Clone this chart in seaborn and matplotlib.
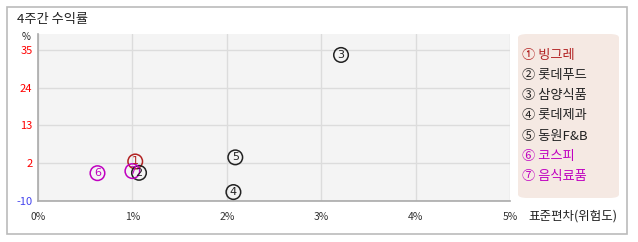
import matplotlib
matplotlib.use("Agg")
import matplotlib.pyplot as plt
import seaborn as sns
import pandas as pd
from matplotlib.patches import FancyBboxPatch, Rectangle

sns.set_theme(style="white")
plt.rcParams['font.family'] = ['Noto Sans CJK KR', 'DejaVu Sans']

names = ['빙그레', '롯데푸드', '삼양식품', '롯데제과', '동원F&B', '코스피', '음식료품']
marks = ['①', '②', '③', '④', '⑤', '⑥', '⑦']
digits = ['1', '2', '3', '4', '5', '6', '7']
risk = [1.03, 1.07, 3.21, 2.07, 2.09, 0.63, 1.00]
ret = [2.5, -0.8, 33.5, -6.4, 3.7, -0.9, -0.3]
colors = ['#B22222', '#222222', '#222222', '#222222', '#222222', '#C000C0', '#C000C0']
xticks = [0, 1, 2, 3, 4, 5]
xticklabels = ['0%', '1%', '2%', '3%', '4%', '5%']
yticks = [-9, 2, 13, 24, 35]
yticklabels = ['-10', '2', '13', '24', '35']
ytick_colors = ['#4444EE', 'red', 'red', 'red', 'red']

df = pd.DataFrame({'name': names, 'risk': risk, 'ret': ret})

W, H = 638, 242
fig = plt.figure(figsize=(W / 100, H / 100), dpi=100)
fig.patch.set_facecolor('white')

# outer frame
fig.add_artist(Rectangle((6.5 / W, 1 - 234 / H), (627 - 6.5) / W, (234 - 7) / H,
                         transform=fig.transFigure, fill=False, edgecolor='#BBBBBB', lw=1.2))

ax = fig.add_axes([38 / W, 1 - 201 / H, (510 - 38) / W, (201 - 34) / H])
ax.set_facecolor('#F4F4F4')

sns.scatterplot(data=df, x='risk', y='ret', hue='name', palette=dict(zip(names, colors)),
                s=110, linewidth=1.1, legend=False, ax=ax, zorder=3)
coll = ax.collections[0]
coll.set_edgecolors(colors)
coll.set_facecolors('none')

for x, y, d, c in zip(risk, ret, digits, colors):
    ax.text(x, y, d, color=c, fontsize=8, ha='center', va='center', zorder=4,
            family=['DejaVu Sans'])

ax.set_xlim(0, 5)
ax.set_ylim(-9, 39.6)
ax.set_xticks(xticks)
ax.set_xticklabels(xticklabels, fontsize=7.5, color='#333333')
ax.set_yticks(yticks)
ax.set_yticklabels(yticklabels, fontsize=8)
for lab, c in zip(ax.get_yticklabels(), ytick_colors):
    lab.set_color(c)
ax.tick_params(axis='both', length=0, pad=8)
ax.tick_params(axis='y', pad=4)
ax.grid(True, color='#DCDCDC', lw=1)
ax.set_axisbelow(True)
for s in ['top', 'right']:
    ax.spines[s].set_visible(False)
for s in ['left', 'bottom']:
    ax.spines[s].set_color('#AAAAAA')
    ax.spines[s].set_linewidth(1.2)
ax.set_xlabel('')
ax.set_ylabel('')

fig.text(17 / W, 1 - 19 / H, '4주간 수익률', fontsize=9.5, color='#222222', va='center', ha='left')
fig.text(26 / W, 1 - 37 / H, '%', fontsize=7, color='#222222', va='center', ha='center')
fig.text(528 / W, 1 - 216 / H, '표준편차(위험도)', fontsize=9, color='#222222', va='center', ha='left')

# legend box
fig.add_artist(FancyBboxPatch((518 / W, 1 - 198 / H), (619 - 518) / W, (198 - 34) / H,
                              boxstyle='round,pad=0,rounding_size=0.015',
                              transform=fig.transFigure, facecolor='#F5E9E3', edgecolor='none'))
for i, (m, n, c) in enumerate(zip(marks, names, colors)):
    fig.text(522 / W, 1 - (55 + i * 20.3) / H, f'{m} {n}', fontsize=9.5, color=c,
             va='center', ha='left')

fig.savefig('out.png', dpi=100)
